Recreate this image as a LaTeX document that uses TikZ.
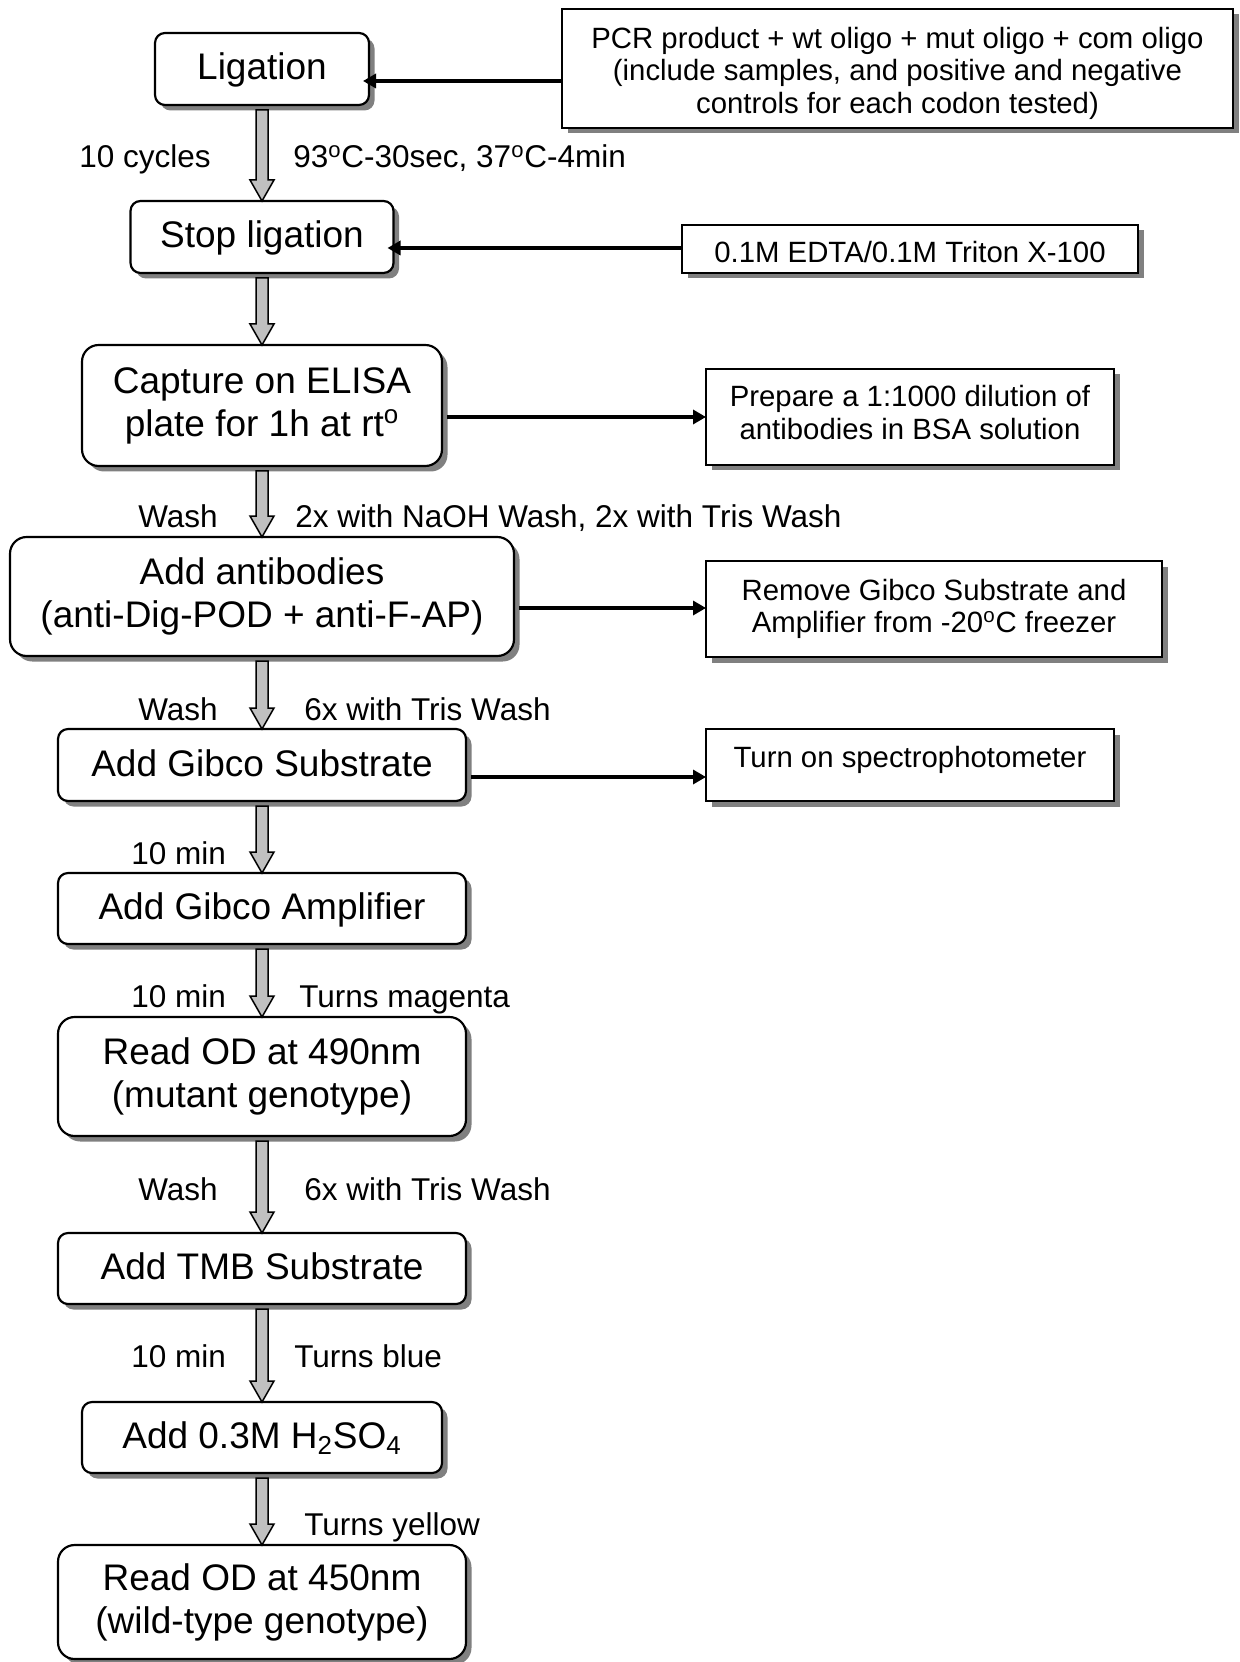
\documentclass[tikz,border=0pt]{standalone}
\usepackage{fontspec}
\setmainfont{Liberation Sans}
\usetikzlibrary{shadows,arrows.meta,calc}
\definecolor{shadowgray}{RGB}{128,128,128}
\definecolor{arrowgray}{RGB}{192,192,192}
\newcommand\flowdown[2]{%
  \draw[barrow] let \p1=(#1.south), \p2=(#2.north) in
   (\x1-3.6pt,\y1-3pt) -- (\x1-3.6pt,\y2+12.6pt) -- (\x1-7.2pt,\y2+12.6pt) --
   (\x1,\y2) -- (\x1+7.2pt,\y2+12.6pt) -- (\x1+3.6pt,\y2+12.6pt) --
   (\x1+3.6pt,\y1-3pt) -- cycle;}
\newcommand\sups[1]{\textsuperscript{#1}}
\begin{document}
\begin{tikzpicture}[x=0.6pt,y=-0.6pt,
  shd/.style={drop shadow={shadow xshift=3.3pt,shadow yshift=-3.3pt,fill=shadowgray,opacity=1}},
  mainbox/.style={draw,line width=1.3pt,rounded corners=6pt,fill=white,outer sep=0pt,
    inner sep=0pt,align=center,font=\fontsize{22.2pt}{25.8pt}\selectfont,shd},
  tallbox/.style={mainbox,rounded corners=10pt},
  onel/.style={text height=16.6pt,text depth=3.4pt},
  sidebox/.style={draw,line width=1.6pt,fill=white,outer sep=0pt,inner sep=0pt,
    align=center,font=\fontsize{17.6pt}{19.6pt}\selectfont,shd},
  lbl/.style={anchor=base west,inner sep=0pt,font=\fontsize{18.9pt}{22pt}\selectfont},
  conn/.style={line width=2pt,-{Triangle[length=7.8pt,width=8.4pt]}},
  barrow/.style={draw,line width=0.9pt,fill=arrowgray,line join=miter}
]
\useasboundingbox (0,0) rectangle (1239,1662);

% main column
\node[mainbox,onel,minimum width=128.4pt,minimum height=43.2pt] (lig) at (262,69) {Ligation};
\node[mainbox,onel,minimum width=157.8pt,minimum height=43.2pt] (stop) at (262,237) {Stop ligation};
\node[tallbox,minimum width=216pt,minimum height=72.6pt] (cap) at (262,405.5) {Capture on ELISA\\plate for 1h at rt\sups{o}};
\node[tallbox,minimum width=302.4pt,minimum height=71.4pt] (ab) at (262,596.5) {Add antibodies\\(anti-Dig-POD + anti-F-AP)};
\node[mainbox,onel,minimum width=244.8pt,minimum height=43.2pt] (sub) at (262,765) {Add Gibco Substrate};
\node[mainbox,onel,minimum width=244.8pt,minimum height=42.6pt] (amp) at (262,908.5) {Add Gibco Amplifier};
\node[tallbox,minimum width=244.8pt,minimum height=71.4pt] (r490) at (262,1076.5) {Read OD at 490nm\\(mutant genotype)};
\node[mainbox,onel,minimum width=244.8pt,minimum height=42.6pt] (tmb) at (262,1268.5) {Add TMB Substrate};
\node[mainbox,onel,minimum width=216pt,minimum height=42.6pt] (hso) at (262,1437.5) {Add 0.3M H\textsubscript{2}SO\textsubscript{4}};
\node[tallbox,minimum width=244.8pt,minimum height=68.4pt] (r450) at (262,1602) {Read OD at 450nm\\(wild-type genotype)};

% side boxes
\node[sidebox,minimum width=402.6pt,minimum height=71.4pt] (pcr) at (897.5,68.5) {\rule{0pt}{18.3pt}PCR product + wt oligo + mut oligo + com oligo\\(include samples, and positive and negative\\controls for each codon tested)};
\node[sidebox,text height=16.8pt,text depth=0pt,minimum width=273.6pt,minimum height=28.8pt] (edta) at (910,249) {0.1M EDTA/0.1M Triton X-100};
\node[sidebox,minimum width=244.8pt,minimum height=57.6pt] (prep) at (910,417) {Prepare a 1:1000 dilution of\\antibodies in BSA solution\strut};
\node[sidebox,minimum width=273.6pt,minimum height=57.6pt] (rem) at (934,609) {Remove Gibco Substrate and\\Amplifier from -20\sups{o}C freezer};
\node[sidebox,text height=12.6pt,text depth=10.2pt,minimum width=244.8pt,minimum height=43.2pt] (spec) at (910,765) {Turn on spectrophotometer};

% block arrows
\flowdown{lig}{stop}
\flowdown{stop}{cap}
\flowdown{cap}{ab}
\flowdown{ab}{sub}
\flowdown{sub}{amp}
\flowdown{amp}{r490}
\flowdown{r490}{tmb}
\flowdown{tmb}{hso}
\flowdown{hso}{r450}

% side connectors
\coordinate (yA) at (0,81);
\coordinate (yB) at (0,248);
\coordinate (yC) at (0,417);
\coordinate (yD) at (0,608);
\coordinate (yE) at (0,777);
\draw[conn,shorten >=-3.6pt] (pcr.west |- yA) -- (lig.east |- yA);
\draw[conn,shorten >=-3.6pt] (edta.west |- yB) -- (stop.east |- yB);
\draw[conn,shorten <=3pt] (cap.east |- yC) -- (prep.west |- yC);
\draw[conn,shorten <=3pt] (ab.east |- yD) -- (rem.west |- yD);
\draw[conn,shorten <=3pt] (sub.east |- yE) -- (spec.west |- yE);

% labels
\node[lbl] (t1) at (79,168) {10 cycles};
\node[lbl] (t2) at (293,168) {93\sups{o}C-30sec, 37\sups{o}C-4min};
\node[lbl] (t3) at (138,527) {Wash};
\node[lbl] (t4) at (295,527) {2x with NaOH Wash, 2x with Tris Wash};
\node[lbl] (t5) at (138,720) {Wash};
\node[lbl] (t6) at (304,720) {6x with Tris Wash};
\node[lbl] (t7) at (131,864) {10 min};
\node[lbl] (t8) at (131,1007) {10 min};
\node[lbl] (t9) at (299,1007) {Turns magenta};
\node[lbl] (t10) at (138,1200) {Wash};
\node[lbl] (t11) at (304,1200) {6x with Tris Wash};
\node[lbl] (t12) at (131,1367) {10 min};
\node[lbl] (t13) at (294,1367) {Turns blue};
\node[lbl] (t14) at (304,1535) {Turns yellow};
\end{tikzpicture}
\end{document}
